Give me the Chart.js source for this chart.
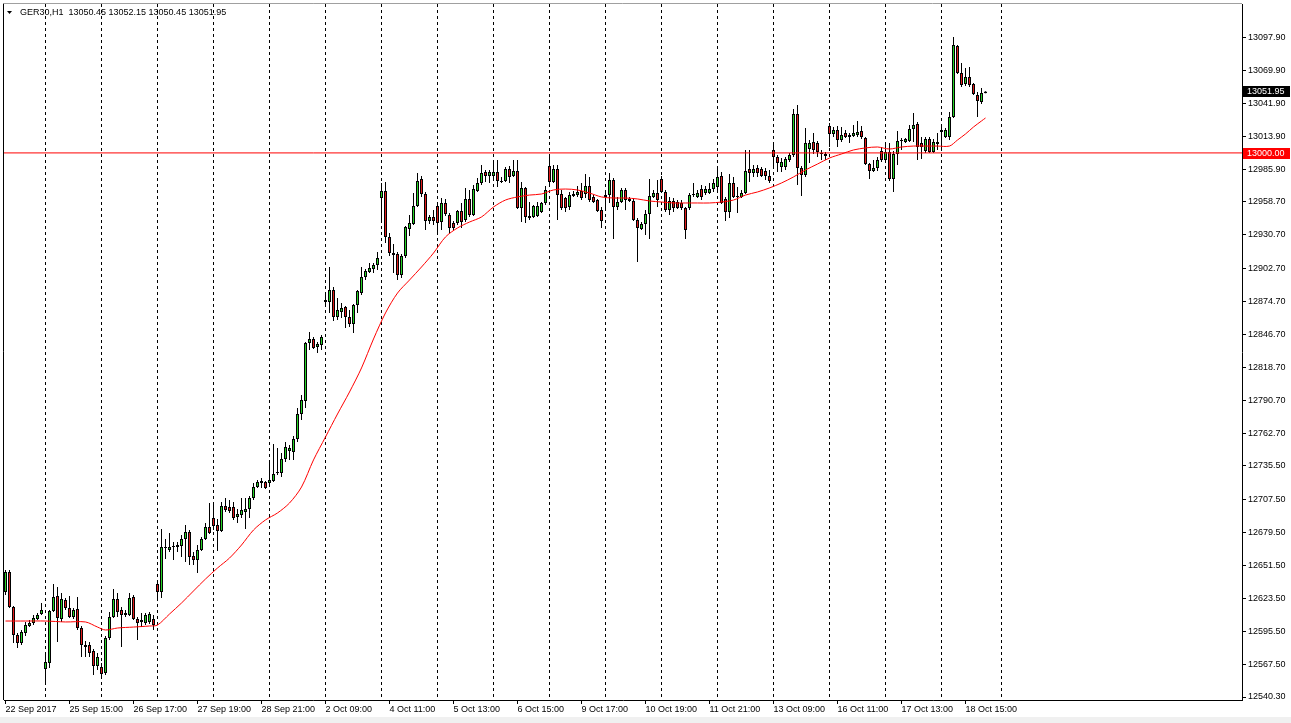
<!DOCTYPE html>
<html>
<head>
<meta charset="utf-8">
<title>GER30,H1</title>
<script src="https://cdn.jsdelivr.net/npm/chart.js@4.4.1/dist/chart.umd.min.js"></script>
<style>
  html, body { margin: 0; padding: 0; background: #fff; }
  canvas { display: block; }
</style>
</head>
<body>
<canvas id="chart" width="1291" height="723"></canvas>
<script>
const chartTitle = "GER30,H1";
const lastQuote = [13050.45, 13052.15, 13050.45, 13051.95]; // O H L C of the last bar
const levelPrice = 13000.0;

// hourly bars, index 0 = 22 Sep 2017 13:00
const opens = [
  12629.0, 12645.9, 12616.4, 12592.7, 12585.9, 12594.4, 12600.3, 12602.8, 12606.2, 12610.4,
  12564.0, 12569.0, 12613.0, 12625.6, 12606.2, 12622.3, 12615.5, 12607.9, 12614.7, 12598.6,
  12584.2, 12584.2, 12579.2, 12566.5, 12565.7, 12560.6, 12590.1, 12607.9, 12623.1, 12613.8,
  12609.6, 12609.6, 12624.8, 12606.2, 12603.7, 12602.8, 12603.7, 12606.2, 12635.8, 12629.0,
  12666.2, 12664.5, 12667.0, 12667.0, 12667.9, 12673.8, 12679.7, 12659.4, 12656.1, 12664.5,
  12673.8, 12683.9, 12691.5, 12685.6, 12680.6, 12701.7, 12700.8, 12700.8, 12692.4, 12694.1,
  12696.6, 12699.2, 12708.4, 12717.7, 12721.1, 12722.0, 12721.1, 12722.8, 12729.6, 12729.6,
  12741.4, 12748.2, 12747.3, 12758.3, 12779.4, 12790.4, 12839.4, 12842.8, 12836.0, 12837.7,
  12874.0, 12874.0, 12884.2, 12861.4, 12865.6, 12869.8, 12861.4, 12855.5, 12871.5, 12881.6,
  12895.2, 12899.4, 12901.9, 12905.3, 12961.9, 12967.8, 12929.0, 12913.8, 12914.6, 12896.9,
  12912.9, 12935.7, 12939.9, 12955.2, 12978.0, 12965.3, 12942.5, 12945.9, 12955.2, 12941.6,
  12957.7, 12947.6, 12940.8, 12940.8, 12950.9, 12943.3, 12961.1, 12947.6, 12967.8, 12974.6,
  12983.9, 12980.5, 12980.5, 12983.9, 12976.3, 12976.3, 12986.4, 12980.5, 12984.7, 12953.5,
  12970.4, 12946.7, 12945.9, 12946.7, 12950.1, 12957.7, 12989.0, 12975.4, 12986.4, 12965.3,
  12961.9, 12954.3, 12965.3, 12964.4, 12967.8, 12965.3, 12972.1, 12962.8, 12960.2, 12951.8,
  12962.8, 12964.4, 12977.1, 12954.3, 12958.5, 12968.7, 12961.1, 12959.4, 12943.3, 12935.7,
  12939.9, 12948.4, 12962.8, 12966.1, 12978.0, 12967.0, 12951.8, 12959.4, 12958.5, 12957.7,
  12953.5, 12953.5, 12964.4, 12962.8, 12969.5, 12966.1, 12966.1, 12969.5, 12971.2, 12980.5,
  12961.1, 12950.1, 12974.6, 12962.8, 12962.8, 12966.1, 12986.4, 12983.0, 12987.3, 12986.4,
  12984.7, 12980.5, 13002.5, 12996.6, 12988.1, 12988.1, 12994.0, 12998.2, 13032.9, 12987.3,
  12981.3, 13003.3, 13009.2, 13008.4, 12999.9, 12999.1, 13022.7, 13016.0, 13019.4, 13010.9,
  13016.8, 13013.4, 13014.3, 13015.1, 13018.5, 13012.6, 12990.6, 12984.7, 12987.3, 13001.6,
  12994.0, 13000.8, 12978.0, 12999.1, 13010.1, 13009.2, 13010.1, 13020.2, 13024.4, 13008.4,
  13001.6, 13011.8, 13000.8, 13009.2, 13017.7, 13013.4, 13013.4, 13030.4, 13090.3, 13067.5,
  13058.2, 13064.1, 13058.2, 13048.9, 13043.0, 13050.45
];
const highs = [
  12647.6, 12647.6, 12617.2, 12594.4, 12596.9, 12603.7, 12605.4, 12609.6, 12611.3, 12619.7,
  12577.5, 12613.8, 12635.8, 12633.2, 12628.2, 12624.0, 12625.6, 12615.5, 12624.8, 12600.3,
  12587.6, 12586.8, 12580.9, 12577.5, 12569.0, 12591.8, 12612.1, 12631.5, 12628.2, 12616.4,
  12613.8, 12628.2, 12626.5, 12607.9, 12611.3, 12611.3, 12612.1, 12609.6, 12637.5, 12682.3,
  12673.8, 12678.9, 12671.3, 12671.3, 12677.2, 12685.6, 12681.4, 12662.8, 12668.7, 12675.5,
  12687.3, 12704.2, 12704.2, 12690.7, 12705.1, 12708.4, 12706.8, 12705.1, 12699.1, 12708.4,
  12708.4, 12710.1, 12721.1, 12723.7, 12725.3, 12722.8, 12738.0, 12754.1, 12750.7, 12746.5,
  12755.8, 12753.2, 12760.8, 12784.5, 12795.5, 12840.2, 12848.7, 12844.5, 12840.2, 12846.2,
  12881.6, 12903.6, 12886.7, 12877.4, 12873.2, 12870.7, 12867.3, 12872.3, 12884.2, 12903.6,
  12901.9, 12907.0, 12907.0, 12916.3, 12974.6, 12975.4, 12932.3, 12923.0, 12916.3, 12914.6,
  12938.3, 12947.6, 12966.1, 12983.0, 12980.5, 12967.0, 12947.6, 12951.8, 12956.8, 12961.9,
  12961.1, 12949.2, 12942.5, 12951.8, 12957.7, 12970.4, 12968.7, 12972.9, 12978.8, 12989.8,
  12985.6, 12985.6, 12994.0, 12994.0, 12979.7, 12988.1, 12988.9, 12994.0, 12994.0, 12975.4,
  12971.2, 12958.5, 12956.0, 12958.5, 12958.5, 12972.1, 12996.6, 12989.8, 12989.8, 12968.7,
  12962.8, 12967.0, 12967.8, 12972.1, 12974.6, 12982.2, 12979.7, 12964.4, 12961.1, 12954.3,
  12968.7, 12983.0, 12978.8, 12962.8, 12970.4, 12970.4, 12962.8, 12961.9, 12945.0, 12941.6,
  12951.8, 12978.0, 12968.7, 12977.1, 12980.5, 12968.7, 12962.8, 12961.9, 12960.2, 12960.2,
  12954.3, 12966.1, 12974.6, 12968.7, 12972.9, 12972.1, 12974.6, 12978.0, 12988.1, 12983.9,
  12962.8, 12982.2, 12979.7, 12971.2, 12968.7, 13002.5, 13002.5, 12989.8, 12989.8, 12988.1,
  12987.3, 12985.6, 13009.2, 12998.2, 12995.7, 12996.6, 12999.9, 13037.1, 13040.5, 12989.0,
  13021.1, 13010.9, 13016.8, 13010.1, 13002.5, 13000.8, 13025.3, 13021.9, 13022.7, 13021.9,
  13019.4, 13016.8, 13023.6, 13027.0, 13022.7, 13013.4, 12991.5, 12994.0, 12996.6, 13005.0,
  13008.4, 13008.4, 13001.6, 13018.5, 13012.6, 13012.6, 13023.6, 13033.7, 13026.1, 13013.4,
  13013.4, 13013.4, 13011.8, 13016.8, 13024.4, 13021.1, 13034.6, 13097.9, 13091.2, 13076.0,
  13071.7, 13072.6, 13059.1, 13051.5, 13054.8, 13052.15
];
const lows = [
  12626.5, 12615.5, 12585.9, 12581.7, 12584.2, 12591.8, 12599.4, 12601.1, 12605.4, 12609.6,
  12550.4, 12564.8, 12612.1, 12586.8, 12603.7, 12613.8, 12607.1, 12606.2, 12596.9, 12574.1,
  12574.1, 12574.1, 12558.9, 12563.1, 12556.4, 12558.9, 12588.5, 12607.1, 12607.9, 12582.5,
  12607.9, 12608.7, 12605.4, 12588.5, 12599.4, 12601.1, 12602.0, 12596.9, 12624.0, 12624.0,
  12656.9, 12662.8, 12656.1, 12662.8, 12658.6, 12654.4, 12651.8, 12651.8, 12645.1, 12663.7,
  12673.0, 12678.0, 12681.4, 12663.7, 12679.7, 12696.6, 12695.8, 12689.9, 12687.3, 12691.5,
  12682.3, 12691.5, 12706.8, 12716.9, 12716.9, 12716.0, 12719.4, 12722.0, 12727.9, 12726.2,
  12738.9, 12740.5, 12740.5, 12755.8, 12774.3, 12784.5, 12833.5, 12834.3, 12831.0, 12833.5,
  12869.8, 12864.8, 12858.0, 12858.8, 12860.5, 12852.1, 12852.9, 12847.9, 12864.8, 12879.9,
  12892.6, 12898.5, 12898.5, 12901.1, 12940.8, 12923.9, 12912.9, 12898.5, 12892.6, 12894.3,
  12911.2, 12929.8, 12939.1, 12954.3, 12962.8, 12934.9, 12939.9, 12939.1, 12930.6, 12934.9,
  12946.7, 12932.3, 12934.9, 12939.1, 12936.6, 12941.6, 12945.9, 12946.7, 12967.0, 12972.9,
  12975.4, 12974.6, 12978.8, 12971.2, 12974.6, 12975.4, 12974.6, 12979.7, 12952.6, 12941.6,
  12940.8, 12943.3, 12945.0, 12945.9, 12949.2, 12956.0, 12971.2, 12974.6, 12943.3, 12951.8,
  12950.1, 12951.8, 12962.8, 12962.8, 12960.2, 12961.9, 12958.5, 12957.7, 12950.1, 12936.6,
  12951.8, 12957.7, 12927.3, 12951.8, 12957.7, 12951.8, 12958.5, 12942.5, 12907.8, 12934.9,
  12930.6, 12927.3, 12961.9, 12954.3, 12966.1, 12950.1, 12947.6, 12950.1, 12952.6, 12951.8,
  12927.3, 12951.8, 12962.8, 12961.9, 12960.2, 12964.4, 12965.3, 12967.0, 12968.7, 12956.8,
  12942.5, 12945.0, 12961.9, 12949.2, 12961.9, 12965.3, 12975.4, 12979.7, 12979.7, 12979.7,
  12977.1, 12974.6, 12986.4, 12983.9, 12983.9, 12985.6, 12992.3, 12996.6, 12972.9, 12963.6,
  12979.7, 12991.5, 12999.1, 12996.6, 12994.0, 12994.0, 13005.0, 13013.4, 13005.0, 13009.2,
  13012.6, 13008.4, 13013.4, 13013.4, 13011.8, 12989.8, 12978.0, 12983.9, 12984.7, 12992.3,
  12992.3, 12976.3, 12967.0, 12989.8, 13002.5, 13008.4, 13009.2, 13009.2, 12994.0, 12994.9,
  12999.9, 12999.9, 12999.9, 13002.5, 13004.2, 13012.6, 13010.9, 13029.5, 13066.7, 13055.7,
  13056.5, 13055.7, 13048.9, 13030.4, 13041.3, 13050.45
];
const closes = [
  12645.9, 12616.4, 12592.7, 12585.9, 12595.2, 12601.1, 12602.8, 12607.1, 12609.6, 12613.8,
  12569.9, 12613.0, 12624.8, 12607.1, 12623.1, 12615.5, 12607.9, 12613.8, 12598.6, 12584.2,
  12582.5, 12577.5, 12566.5, 12574.1, 12559.7, 12590.1, 12607.9, 12623.1, 12612.1, 12609.6,
  12611.3, 12624.0, 12606.2, 12602.8, 12605.4, 12609.6, 12610.4, 12601.1, 12629.0, 12667.0,
  12667.0, 12667.0, 12667.9, 12668.7, 12673.8, 12679.7, 12658.6, 12656.1, 12664.5, 12673.8,
  12683.9, 12678.9, 12684.8, 12680.6, 12701.7, 12698.3, 12697.5, 12691.5, 12694.9, 12698.3,
  12699.2, 12708.4, 12717.7, 12722.0, 12722.8, 12716.9, 12723.7, 12728.7, 12730.4, 12741.4,
  12751.5, 12750.7, 12758.3, 12779.4, 12791.2, 12839.4, 12842.8, 12835.2, 12838.6, 12844.5,
  12875.7, 12884.2, 12861.4, 12867.3, 12869.0, 12861.4, 12855.5, 12871.5, 12883.3, 12895.2,
  12900.2, 12902.8, 12905.3, 12911.2, 12967.8, 12929.0, 12915.4, 12915.4, 12896.9, 12912.9,
  12937.4, 12940.8, 12955.2, 12976.3, 12965.3, 12942.5, 12945.9, 12942.5, 12940.8, 12957.7,
  12948.4, 12936.6, 12936.6, 12950.9, 12941.6, 12961.1, 12947.6, 12969.5, 12974.6, 12983.0,
  12980.5, 12983.9, 12983.9, 12976.3, 12975.4, 12986.4, 12979.7, 12984.7, 12953.5, 12970.4,
  12945.9, 12945.0, 12955.2, 12955.2, 12957.7, 12968.7, 12975.4, 12986.4, 12964.4, 12953.5,
  12953.5, 12964.4, 12963.6, 12967.0, 12961.9, 12972.1, 12960.2, 12958.5, 12950.9, 12942.5,
  12964.4, 12977.1, 12954.3, 12958.5, 12968.7, 12960.2, 12959.4, 12943.3, 12936.6, 12939.9,
  12948.4, 12963.6, 12966.1, 12960.2, 12967.0, 12951.8, 12959.4, 12953.5, 12953.5, 12953.5,
  12934.9, 12964.4, 12965.3, 12966.1, 12962.8, 12969.5, 12969.5, 12974.6, 12979.7, 12957.7,
  12950.1, 12974.6, 12962.8, 12963.6, 12966.1, 12984.7, 12983.0, 12986.4, 12983.0, 12980.5,
  12980.5, 12976.3, 12996.6, 12991.5, 12992.3, 12994.9, 12998.2, 13032.9, 12987.3, 12981.3,
  13008.4, 13008.4, 13002.5, 13000.8, 12999.1, 12997.4, 13016.0, 13019.4, 13010.9, 13015.1,
  13013.4, 13015.1, 13016.8, 13017.7, 13013.4, 12990.6, 12984.7, 12987.3, 12994.0, 12994.0,
  13000.8, 12978.0, 12999.1, 13010.1, 13010.9, 13011.8, 13020.2, 13023.6, 13005.0, 13005.0,
  13011.8, 13000.8, 13009.2, 13007.5, 13019.4, 13019.4, 13030.4, 13091.2, 13067.5, 13057.4,
  13064.1, 13057.4, 13049.8, 13043.9, 13050.6, 13051.95
];

// red moving average, read at these bar indexes
const maBars = [
  0, 5, 10, 15, 20, 23, 25, 28, 32, 36, 38, 41, 44, 47, 50, 53, 56, 59, 62, 65,
  68, 71, 74, 77, 80, 83, 86, 89, 92, 95, 98, 101, 104, 107, 110, 113, 116, 119, 122, 125,
  128, 131, 134, 137, 140, 143, 146, 149, 152, 155, 158, 161, 164, 167, 170, 173, 176, 179, 182, 185,
  188, 191, 194, 197, 200, 203, 206, 209, 212, 215, 218, 221, 224, 227, 230, 233, 236, 238, 240, 242,
  244, 245
];
const maValues = [
  12604.5, 12604.5, 12604.5, 12603.7, 12603.7, 12599.4, 12596.9, 12598.6, 12599.4, 12600.3,
  12601.1, 12610.4, 12619.7, 12629.9, 12640.0, 12649.3, 12657.7, 12668.7, 12681.4, 12689.9,
  12695.8, 12704.2, 12717.7, 12740.6, 12760.0, 12779.4, 12798.0, 12818.3, 12842.8, 12864.8,
  12881.6, 12892.6, 12903.6, 12915.4, 12929.0, 12936.6, 12941.6, 12945.9, 12954.3, 12960.2,
  12962.8, 12964.4, 12965.3, 12968.7, 12969.5, 12968.7, 12966.1, 12962.8, 12961.9, 12961.9,
  12961.1, 12959.4, 12958.5, 12957.7, 12957.7, 12957.7, 12957.7, 12958.5, 12960.2, 12964.4,
  12967.0, 12970.4, 12974.6, 12979.7, 12985.6, 12990.6, 12995.7, 12999.1, 13002.5, 13004.2,
  13005.0, 13003.3, 13005.0, 13005.8, 13005.8, 13005.8, 13005.8, 13010.9, 13016.0, 13021.9,
  13027.0, 13029.5
];

// axes
const yTicks = [
  13097.90, 13069.90, 13041.90, 13013.90, 12985.90, 12958.70, 12930.70, 12902.70, 12874.70, 12846.70,
  12818.70, 12790.70, 12762.70, 12735.50, 12707.50, 12679.50, 12651.50, 12623.50, 12595.50, 12567.50,
  12540.30
];
const labelBars = [0, 16, 32, 48, 64, 80, 96, 112, 128, 144, 160, 176, 192, 208, 224, 240];
const timeLabels = [
  "22 Sep 2017", "25 Sep 15:00", "26 Sep 17:00", "27 Sep 19:00", "28 Sep 21:00", "2 Oct 09:00",
  "4 Oct 11:00", "5 Oct 13:00", "6 Oct 15:00", "9 Oct 17:00", "10 Oct 19:00", "11 Oct 21:00",
  "13 Oct 09:00", "16 Oct 11:00", "17 Oct 13:00", "18 Oct 15:00"
];
const gridBars = [10, 24, 38, 52, 66, 80, 94, 108, 122, 136, 150, 164, 178, 192, 206, 220, 234, 249];

const xMin = -0.375;
const xMax = 309.125;
const yMin = 12537.77;
const yMax = 13125.82;

const BULL = "#26d326";
const BEAR = "#e01b1b";
const axisFont = { family: "'Liberation Sans', Arial, sans-serif", size: 9 };

const barIdx = closes.map((c, i) => i);
const bodyColors = barIdx.map((i) => (closes[i] >= opens[i] ? BULL : BEAR));

const overlay = {
  id: "overlay",
  beforeDraw(chart) {
    const c = chart.ctx;
    c.save();
    c.fillStyle = "#fff";
    c.fillRect(0, 0, chart.width, chart.height);
    // window strip under the time scale
    c.fillStyle = "#f0f0f0";
    c.fillRect(0, 717, chart.width, chart.height - 717);
    c.restore();
  },
  afterDraw(chart) {
    const c = chart.ctx;
    const area = chart.chartArea;
    const y = chart.scales.y;
    c.save();

    // left / top frame
    c.strokeStyle = "#000";
    c.lineWidth = 1;
    c.beginPath();
    c.moveTo(3.5, area.bottom);
    c.lineTo(3.5, 3.5);
    c.stroke();
    c.strokeStyle = "#a0a0a0";
    c.beginPath();
    c.moveTo(3.5, 3.5);
    c.lineTo(area.right, 3.5);
    c.stroke();

    // price markers on the axis
    const markers = [
      { value: lastQuote[3], color: "#000" },
      { value: levelPrice, color: "#ff0000" },
    ];
    c.font = "9px 'Liberation Sans', Arial, sans-serif";
    c.textBaseline = "middle";
    c.textAlign = "left";
    markers.forEach((m) => {
      const py = Math.round(y.getPixelForValue(m.value));
      c.fillStyle = m.color;
      c.fillRect(area.right + 1, py - 5, 47, 11);
      c.fillStyle = "#fff";
      c.fillText(m.value.toFixed(2), area.right + 5, py + 0.5);
    });

    // header
    c.fillStyle = "#000";
    c.beginPath();
    c.moveTo(7, 11);
    c.lineTo(12, 11);
    c.lineTo(9.5, 14);
    c.closePath();
    c.fill();
    c.fillText(
      chartTitle + "  " + lastQuote.map((v) => v.toFixed(2)).join(" "),
      20,
      13
    );
    c.restore();
  },
};

new Chart(document.getElementById("chart"), {
  type: "bar",
  data: {
    datasets: [
      {
        label: "wicks",
        data: barIdx.map((i) => ({ x: i, y: [lows[i], highs[i]] })),
        backgroundColor: "#000",
        borderWidth: 0,
        barThickness: 1,
        inflateAmount: 0,
        grouped: false,
        order: 3,
      },
      {
        label: "bodies",
        data: barIdx.map((i) => ({ x: i, y: [opens[i], closes[i]] })),
        backgroundColor: bodyColors,
        borderColor: "#000",
        borderWidth: 1,
        borderSkipped: false,
        barThickness: 3,
        minBarLength: 1,
        inflateAmount: 0,
        grouped: false,
        order: 2,
      },
      {
        type: "line",
        label: "MA",
        data: maBars.map((b, k) => ({ x: b, y: maValues[k] })),
        borderColor: "#ff0000",
        borderWidth: 1,
        pointRadius: 0,
        tension: 0.3,
        order: 1,
      },
      {
        type: "line",
        label: "level",
        data: [
          { x: xMin, y: levelPrice },
          { x: xMax, y: levelPrice },
        ],
        borderColor: "#ff0000",
        borderWidth: 1,
        pointRadius: 0,
        order: 0,
      },
    ],
  },
  options: {
    responsive: false,
    animation: false,
    devicePixelRatio: 1,
    events: [],
    layout: { padding: { left: 4, top: 4, right: 0, bottom: 0 } },
    plugins: { legend: { display: false }, tooltip: { enabled: false } },
    scales: {
      x: {
        type: "linear",
        position: "bottom",
        min: xMin,
        max: xMax,
        offset: false,
        afterBuildTicks: (s) => {
          s.ticks = labelBars.map((v) => ({ value: v }));
        },
        afterFit: (s) => {
          s.height = 23;
          s.paddingLeft = 0;
          s.paddingRight = 0;
        },
        ticks: {
          autoSkip: false,
          maxRotation: 0,
          minRotation: 0,
          align: "start",
          padding: 0,
          color: "#000",
          font: axisFont,
          callback: (v, i) => timeLabels[i],
        },
        grid: { offset: false, drawOnChartArea: false, tickLength: 4, color: "#000" },
        border: { display: true, color: "#000" },
      },
      xg: {
        type: "linear",
        position: "top",
        min: xMin,
        max: xMax,
        offset: false,
        afterBuildTicks: (s) => {
          s.ticks = gridBars.map((v) => ({ value: v }));
        },
        afterFit: (s) => {
          s.height = 0;
          s.paddingLeft = 0;
          s.paddingRight = 0;
        },
        ticks: { display: false },
        grid: { offset: false, drawOnChartArea: true, drawTicks: false, color: "#000" },
        border: { display: false, dash: [3, 3] },
      },
      y: {
        type: "linear",
        position: "right",
        min: yMin,
        max: yMax,
        afterBuildTicks: (s) => {
          s.ticks = yTicks.map((v) => ({ value: v }));
        },
        afterFit: (s) => {
          s.width = 49;
          s.paddingTop = 0;
          s.paddingBottom = 0;
        },
        ticks: {
          autoSkip: false,
          padding: 2,
          color: "#000",
          font: axisFont,
          crossAlign: "near",
          callback: (v) => Number(v).toFixed(2),
        },
        grid: { drawOnChartArea: false, tickLength: 4, color: "#000" },
        border: { display: true, color: "#000" },
      },
    },
  },
  plugins: [overlay],
});
</script>
</body>
</html>
